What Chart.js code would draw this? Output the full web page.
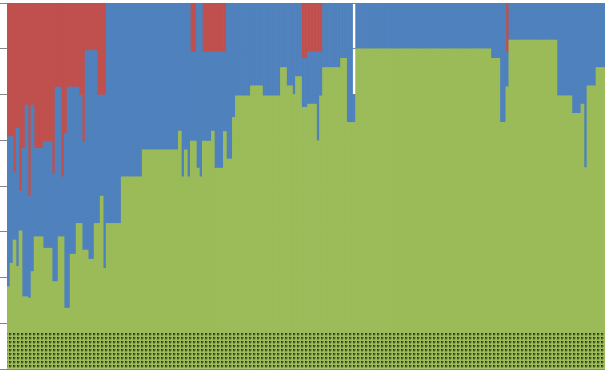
<!DOCTYPE html>
<html><head><meta charset="utf-8">
<script src="https://cdn.jsdelivr.net/npm/chart.js@4.4.1/dist/chart.umd.min.js"></script>
<style>html,body{margin:0;padding:0;background:#fff;overflow:hidden}#wrap{width:605px;height:371px}</style>
</head><body><div id="wrap"><canvas id="c" width="605" height="371"></canvas></div>
<script>
// bottom (dotted) series
const baseSeries = [
0.8,0.8,0.8,0.8,0.8,0.8,0.8,0.8,0.8,0.8,
0.8,0.8,0.8,0.8,0.8,0.8,0.8,0.8,0.8,0.8,
0.8,0.8,0.8,0.8,0.8,0.8,0.8,0.8,0.8,0.8,
0.8,0.8,0.8,0.8,0.8,0.8,0.8,0.8,0.8,0.8,
0.8,0.8,0.8,0.8,0.8,0.8,0.8,0.8,0.8,0.8,
0.8,0.8,0.8,0.8,0.8,0.8,0.8,0.8,0.8,0.8,
0.8,0.8,0.8,0.8,0.8,0.8,0.8,0.8,0.8,0.8,
0.8,0.8,0.8,0.8,0.8,0.8,0.8,0.8,0.8,0.8,
0.8,0.8,0.8,0.8,0.8,0.8,0.8,0.8,0.8,0.8,
0.8,0.8,0.8,0.8,0.8,0.8,0.8,0.8,0.8,0.8,
0.8,0.8,0.8,0.8,0.8,0.8,0.8,0.8,0.8,0.8,
0.8,0.8,0.8,0.8,0.8,0.8,0.8,0.8,0.8,0.8,
0.8,0.8,0.8,0.8,0.8,0.8,0.8,0.8,0.8,0.8,
0.8,0.8,0.8,0.8,0.8,0.8,0.8,0.8,0.8,0.8,
0.8,0.8,0.8,0.8,0.8,0.8,0.8,0.8,0.8,0.8,
0.8,0.8,0.8,0.8,0.8,0.8,0.8,0.8,0.8,0.8,
0.8,0.8,0.8,0.8,0.8,0.8,0.8,0.8,0.8,0.8,
0.8,0.8,0.8,0.8,0.8,0.8,0.8,0.8,0.8,0.8,
0.8,0.8,0.8,0.8,0.8,0.8,0.8,0.8,0.8,0.8,
0.8,0.8,0.8,0.8,0.8,0.8,0.8,0.8,0.8
];
const greenSeries = [
1.00,1.51,2.02,1.44,2.22,0.78,0.78,0.75,1.33,2.09,
2.09,2.09,1.84,1.84,1.84,1.11,1.11,2.09,2.09,0.53,
0.53,1.71,1.71,2.38,2.38,1.80,1.80,1.60,1.60,2.38,
2.38,2.98,1.40,2.38,2.38,2.38,2.38,2.38,3.40,3.40,
3.40,3.40,3.40,3.40,3.40,3.99,3.99,3.99,3.99,3.99,
3.99,3.99,3.99,3.99,3.99,3.99,3.99,4.40,3.40,3.99,
3.40,4.18,4.18,3.59,3.40,4.18,4.18,4.18,4.40,3.59,
3.59,3.59,4.39,3.79,3.79,4.70,5.17,5.17,5.17,5.17,
5.17,5.39,5.39,5.39,5.39,5.17,5.17,5.17,5.17,5.17,
5.17,5.79,5.79,5.39,5.39,5.20,5.59,5.59,4.92,4.92,
4.99,4.99,4.99,4.19,5.17,5.79,5.79,5.79,5.79,5.79,
5.79,5.99,5.99,4.59,4.59,4.59,6.20,6.20,6.20,6.20,
6.20,6.20,6.20,6.20,6.20,6.20,6.20,6.20,6.20,6.20,
6.20,6.20,6.20,6.20,6.20,6.20,6.20,6.20,6.20,6.20,
6.20,6.20,6.20,6.20,6.20,6.20,6.20,6.20,6.20,6.20,
6.20,6.20,6.20,6.20,6.20,6.20,6.20,6.20,6.20,6.20,
6.20,5.99,5.99,5.99,4.59,4.59,5.37,6.39,6.39,6.39,
6.39,6.39,6.39,6.39,6.39,6.39,6.39,6.39,6.39,6.39,
6.39,6.39,6.39,5.17,5.17,5.17,5.17,5.17,4.79,4.79,
4.79,4.99,3.60,5.39,5.39,5.39,5.79,5.79,5.79
];
const blueSeries = [
3.28,2.77,1.47,3.02,0.86,3.24,4.19,2.22,3.64,1.93,
1.93,1.93,2.33,2.33,2.33,2.36,4.25,3.27,1.31,3.82,
4.83,3.65,3.65,2.98,2.81,2.37,4.36,4.56,4.56,3.78,
2.81,2.21,3.79,4.82,4.82,4.82,4.82,4.82,3.80,3.80,
3.80,3.80,3.80,3.80,3.80,3.21,3.21,3.21,3.21,3.21,
3.21,3.21,3.21,3.21,3.21,3.21,3.21,2.80,3.80,3.21,
3.80,1.95,1.95,3.61,3.80,1.95,1.95,1.95,1.73,2.54,
2.54,2.54,1.74,3.41,3.41,2.50,2.03,2.03,2.03,2.03,
2.03,1.81,1.81,1.81,1.81,2.03,2.03,2.03,2.03,2.03,
2.03,1.41,1.41,1.81,1.81,2.00,1.61,1.61,1.07,1.07,
1.14,1.14,1.14,1.94,0.96,1.41,1.41,1.41,1.41,1.41,
1.41,1.21,1.21,2.61,2.61,0.60,1.00,1.00,1.00,1.00,
1.00,1.00,1.00,1.00,1.00,1.00,1.00,1.00,1.00,1.00,
1.00,1.00,1.00,1.00,1.00,1.00,1.00,1.00,1.00,1.00,
1.00,1.00,1.00,1.00,1.00,1.00,1.00,1.00,1.00,1.00,
1.00,1.00,1.00,1.00,1.00,1.00,1.00,1.00,1.00,1.00,
1.00,1.21,1.21,1.21,2.61,2.61,0.76,0.81,0.81,0.81,
0.81,0.81,0.81,0.81,0.81,0.81,0.81,0.81,0.81,0.81,
0.81,0.81,0.81,2.03,2.03,2.03,2.03,2.03,2.41,2.41,
2.41,2.21,3.60,1.81,1.81,1.81,1.41,1.41,1.41
];
const redSeries = [
2.92,2.92,3.71,2.74,4.12,3.18,2.23,4.23,2.23,3.18,
3.18,3.18,3.03,3.03,3.03,3.73,1.84,1.84,3.80,2.85,
1.84,1.84,1.84,1.84,2.01,3.03,1.04,1.04,1.04,1.04,
2.01,2.01,2.01,0,0,0,0,0,0,0,
0,0,0,0,0,0,0,0,0,0,
0,0,0,0,0,0,0,0,0,0,
0,1.07,1.07,0,0,1.07,1.07,1.07,1.07,1.07,
1.07,1.07,1.07,0,0,0,0,0,0,0,
0,0,0,0,0,0,0,0,0,0,
0,0,0,0,0,0,0,0,1.21,1.21,
1.07,1.07,1.07,1.07,1.07,0,0,0,0,0,
0,0,0,0,0,0,0,0,0,0,
0,0,0,0,0,0,0,0,0,0,
0,0,0,0,0,0,0,0,0,0,
0,0,0,0,0,0,0,0,0,0,
0,0,0,0,0,0,0,0,0,0,
0,0,0,0,0,0,1.07,0,0,0,
0,0,0,0,0,0,0,0,0,0,
0,0,0,0,0,0,0,0,0,0,
0,0,0,0,0,0,0,0,0
];
const yTicks = [0,1,2,3,4,5,6,7,8];
const categories = greenSeries.map((_, i) => String(i + 1));

function makeDots(){
  const c = document.createElement('canvas'); c.width = 4; c.height = 4;
  const g = c.getContext('2d');
  g.fillStyle = '#9BBB59'; g.fillRect(0,0,4,4);
  g.fillStyle = '#4d5f28'; g.fillRect(1,1,2,2);
  g.fillStyle = '#1a210c'; g.fillRect(1,1,1,1);
  g.fillStyle = '#7d9845'; g.fillRect(3,1,1,2); g.fillRect(1,3,2,1);
  return g.createPattern(c, 'repeat');
}

new Chart(document.getElementById('c').getContext('2d'), {
  type: 'bar',
  data: {
    labels: categories,
    datasets: [
      { label: 'Base', data: baseSeries, backgroundColor: makeDots() },
      { label: 'Green', data: greenSeries, backgroundColor: '#9BBB59' },
      { label: 'Blue', data: blueSeries, backgroundColor: '#4F81BD' },
      { label: 'Red', data: redSeries, backgroundColor: '#C0504D' }
    ]
  },
  options: {
    responsive: false,
    animation: false,
    devicePixelRatio: 1,
    layout: { padding: { top: 3, bottom: 2, left: 0, right: 0 } },
    datasets: { bar: { barPercentage: 1, categoryPercentage: 1, borderWidth: 0 } },
    plugins: { legend: { display: false }, tooltip: { enabled: false } },
    scales: {
      x: { stacked: true, display: false },
      y: {
        stacked: true, min: 0, max: 8,
        afterBuildTicks: (s) => { s.ticks = yTicks.map(v => ({ value: v })); },
        ticks: { display: false },
        grid: { color: '#868686', tickLength: 7, drawTicks: true },
        border: { display: false }
      }
    }
  }
});
</script>
</body></html>
